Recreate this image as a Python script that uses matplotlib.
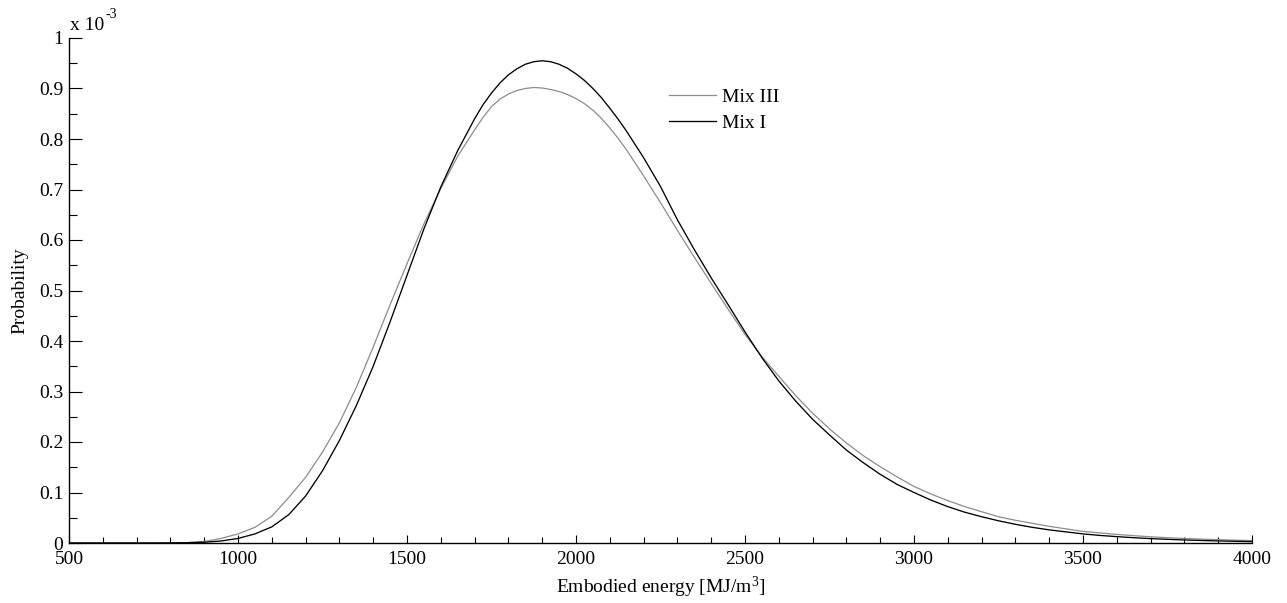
import numpy as np
import matplotlib
matplotlib.use("Agg")
import matplotlib.pyplot as plt
from matplotlib.ticker import MultipleLocator, FixedFormatter, FixedLocator

plt.rcParams['font.family'] = ['Liberation Serif', 'DejaVu Serif']
plt.rcParams['mathtext.fontset'] = 'custom'
plt.rcParams['mathtext.rm'] = 'Liberation Serif'
plt.rcParams['mathtext.it'] = 'Liberation Serif:italic'

# embodied energy grid [MJ/m3], finer around the peak
energy = (list(range(500, 1700, 50)) + list(range(1700, 2150, 25))
          + list(range(2150, 4001, 50)))

# probability density (x 1e-3)
mix_i = [0, 0, 0, 0, 0, 0, 0.0002, 0.0006, 0.0015, 0.004,
         0.009, 0.018, 0.032, 0.056, 0.093, 0.143, 0.203, 0.272, 0.350, 0.438,
         0.530, 0.622, 0.705, 0.777,
         0.840, 0.868, 0.891, 0.911, 0.927, 0.939, 0.948, 0.953, 0.955, 0.953,
         0.948, 0.940, 0.929, 0.916, 0.900, 0.882, 0.861, 0.839,
         0.815, 0.763, 0.706, 0.640, 0.581, 0.525, 0.472,
         0.418, 0.367, 0.321, 0.281, 0.245, 0.214, 0.184, 0.159, 0.136, 0.116,
         0.100, 0.085, 0.072, 0.061, 0.052, 0.044, 0.037, 0.031, 0.026, 0.022,
         0.018, 0.015, 0.0126, 0.0105, 0.0087, 0.0073, 0.006, 0.005, 0.0041, 0.0034,
         0.0028]

mix_iii = [0, 0, 0, 0, 0, 0, 0.0002, 0.0008, 0.003, 0.009,
           0.018, 0.031, 0.053, 0.090, 0.130, 0.180, 0.238, 0.308, 0.388, 0.472,
           0.553, 0.632, 0.702, 0.766,
           0.818, 0.843, 0.864, 0.879, 0.889, 0.896, 0.900, 0.902, 0.901, 0.898,
           0.894, 0.888, 0.880, 0.870, 0.857, 0.841, 0.822, 0.801,
           0.778, 0.727, 0.674, 0.619, 0.566, 0.514, 0.463,
           0.413, 0.369, 0.330, 0.292, 0.257, 0.226, 0.198, 0.173, 0.151, 0.131,
           0.112, 0.097, 0.084, 0.072, 0.062, 0.052, 0.045, 0.039, 0.033, 0.028,
           0.023, 0.020, 0.017, 0.0145, 0.0123, 0.0105, 0.0090, 0.0077, 0.0066, 0.0056,
           0.0048]

y_ticks = [0, 0.1, 0.2, 0.3, 0.4, 0.5, 0.6, 0.7, 0.8, 0.9, 1.0]
y_tick_labels = ['0', '0.1', '0.2', '0.3', '0.4', '0.5', '0.6', '0.7', '0.8', '0.9', '1']

fig = plt.figure(figsize=(12.87, 6.03), dpi=100)
ax = fig.add_axes([69 / 1287, 60 / 603, 1183 / 1287, 505 / 603])

scale = 1e-3
ax.plot(energy, np.array(mix_iii) * scale, color='0.55', lw=0.9, label='Mix III')
ax.plot(energy, np.array(mix_i) * scale, color='black', lw=0.95, label='Mix I')

ax.set_xlim(500, 4000)
ax.set_ylim(0, 1e-3)

ax.xaxis.set_major_locator(MultipleLocator(500))
ax.xaxis.set_minor_locator(MultipleLocator(100))
ax.yaxis.set_major_locator(FixedLocator([v * scale for v in y_ticks]))
ax.yaxis.set_major_formatter(FixedFormatter(y_tick_labels))
ax.yaxis.set_minor_locator(MultipleLocator(0.05 * scale))

for s in ['top', 'right']:
    ax.spines[s].set_visible(False)
for s in ['left', 'bottom']:
    ax.spines[s].set_linewidth(1.0)

ax.tick_params(axis='both', which='both', direction='in', width=0.8,
               labelsize=14, colors='black')
ax.tick_params(axis='y', which='major', length=9, pad=4)
ax.tick_params(axis='y', which='minor', length=5.5)
ax.tick_params(axis='x', which='major', length=6, pad=6)
ax.tick_params(axis='x', which='minor', length=4.5)

ax.set_xlabel('Embodied energy [MJ/m$^3$]', fontsize=14)
ax.set_ylabel('Probability', fontsize=14)
ax.xaxis.set_label_coords(0.5, -0.062)
ax.yaxis.set_label_coords(-0.034, 0.5)

# exponent marker above the y axis
fig.text(70 / 1287, 1 - 30 / 603, 'x 10', fontsize=14, ha='left', va='baseline')
fig.text(105 / 1287, 1 - 18 / 603, '-3', fontsize=10, ha='left', va='baseline')

ax.legend(loc='upper left', bbox_to_anchor=(669 / 1287, 1 - 88 / 603),
          bbox_transform=fig.transFigure, frameon=False, fontsize=14,
          handlelength=2.4, handletextpad=0.3, labelspacing=0.45,
          borderpad=0, borderaxespad=0)

fig.savefig('out.png', dpi=100)
